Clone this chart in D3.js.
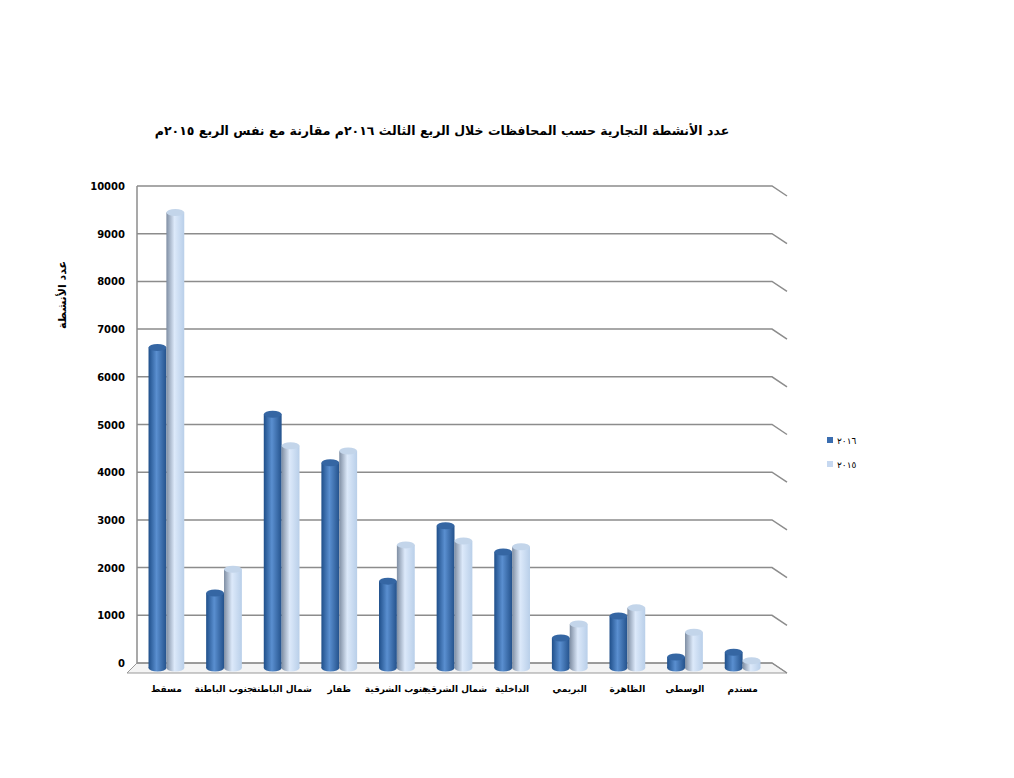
<!DOCTYPE html>
<html><head><meta charset="utf-8">
<script src="https://cdn.jsdelivr.net/npm/d3@7"></script>
<style>body{margin:0;background:#fff;font-family:"DejaVu Sans",sans-serif}</style>
</head><body><div id="wrapper"></div>
<script>
const categories = ["مسقط","جنوب الباطنة","شمال الباطنة","ظفار","جنوب الشرقية","شمال الشرقية","الداخلية","البريمي","الظاهرة","الوسطى","مسندم"];
const values2016 = [6700, 1550, 5300, 4280, 1800, 2960, 2410, 610, 1070, 210, 310];
const values2015 = [9530, 2050, 4640, 4530, 2560, 2640, 2520, 900, 1240, 730, 130];
const seriesNames = ["٢٠١٦", "٢٠١٥"];
const yTicks = [0,1000,2000,3000,4000,5000,6000,7000,8000,9000,10000];

const width = 1014, height = 778;
const plotLeft = 137, plotRight = 772, plotTop = 186, plotBottom = 663, depth = 15, drop = 10;

const svg = d3.select("#wrapper").append("svg").attr("width", width).attr("height", height);
const defs = svg.append("defs");
const grads = [["g16", "#1f4f8a", "#5a8fd0", "#24528c"], ["g15", "#7f8ea3", "#dce9fa", "#b9cfe9"]];
grads.forEach(([id, a, b, c]) => {
  const g = defs.append("linearGradient").attr("id", id);
  g.append("stop").attr("offset", "0%").attr("stop-color", a);
  g.append("stop").attr("offset", "45%").attr("stop-color", b);
  g.append("stop").attr("offset", "100%").attr("stop-color", c);
});

const y = d3.scaleLinear().domain([0, 10000]).range([plotBottom, plotTop]);
const x = d3.scaleBand().domain(categories).range([plotLeft, plotRight]).paddingInner(0.38).paddingOuter(0.2);
const sub = d3.scaleBand().domain([0, 1]).range([0, x.bandwidth()]);

// floor
svg.append("path")
  .attr("d", `M${plotLeft},${plotBottom} L${plotRight},${plotBottom} L${plotRight + depth},${plotBottom + drop} L${plotLeft - 10},${plotBottom + drop} Z`)
  .attr("fill", "#f4f4f4").attr("stroke", "#999");

// grid lines
yTicks.forEach(t => {
  svg.append("path")
    .attr("d", `M${plotLeft},${y(t)} L${plotRight},${y(t)} L${plotRight + depth},${y(t) + drop}`)
    .attr("fill", "none").attr("stroke", "#8c8c8c").attr("stroke-width", 1.5);
  svg.append("text").attr("x", plotLeft - 12).attr("y", y(t) + 4).attr("text-anchor", "end")
    .attr("font-size", 10).attr("font-weight", "bold").text(t);
});
svg.append("line").attr("x1", plotLeft).attr("x2", plotLeft).attr("y1", plotTop).attr("y2", plotBottom).attr("stroke", "#8c8c8c").attr("stroke-width", 1.5);

// bars (cylinders)
const series = [values2016, values2015];
categories.forEach((c, i) => {
  series.forEach((vals, s) => {
    const bx = x(c) + sub(s), bw = sub.bandwidth(), ry = 3.5;
    const yt = y(vals[i]) + 4, yb = plotBottom + 5;
    const fill = `url(#${grads[s][0]})`;
    svg.append("rect").attr("x", bx).attr("y", yt).attr("width", bw).attr("height", yb - yt).attr("fill", fill);
    svg.append("ellipse").attr("cx", bx + bw / 2).attr("cy", yb).attr("rx", bw / 2).attr("ry", ry).attr("fill", fill);
    svg.append("ellipse").attr("cx", bx + bw / 2).attr("cy", yt).attr("rx", bw / 2).attr("ry", ry)
      .attr("fill", s ? "#c3d5ea" : "#3566a3");
  });
  svg.append("text").attr("x", x(c) + x.bandwidth() / 2).attr("y", 692).attr("text-anchor", "middle")
    .attr("font-size", 9).attr("font-weight", "bold").text(c);
});

// title
svg.append("text").attr("x", 442).attr("y", 135).attr("text-anchor", "middle").attr("direction", "rtl")
  .attr("font-size", 12.5).attr("font-weight", "bold").text("عدد الأنشطة التجارية حسب المحافظات خلال الربع الثالث ٢٠١٦م مقارنة مع نفس الربع ٢٠١٥م");

// y label
svg.append("text").attr("transform", "translate(66,295) rotate(-90)").attr("text-anchor", "middle")
  .attr("font-size", 11).attr("font-weight", "bold").text("عدد الأنشطة");

// legend
const legend = svg.append("g").attr("transform", "translate(827,437)");
["#3a6db0", "#c6d8f0"].forEach((col, s) => {
  legend.append("rect").attr("x", 0).attr("y", s * 24).attr("width", 6).attr("height", 6).attr("fill", col);
  legend.append("text").attr("x", 10).attr("y", s * 24 + 7).attr("font-size", 9).text(seriesNames[s]);
});
</script></body></html>
